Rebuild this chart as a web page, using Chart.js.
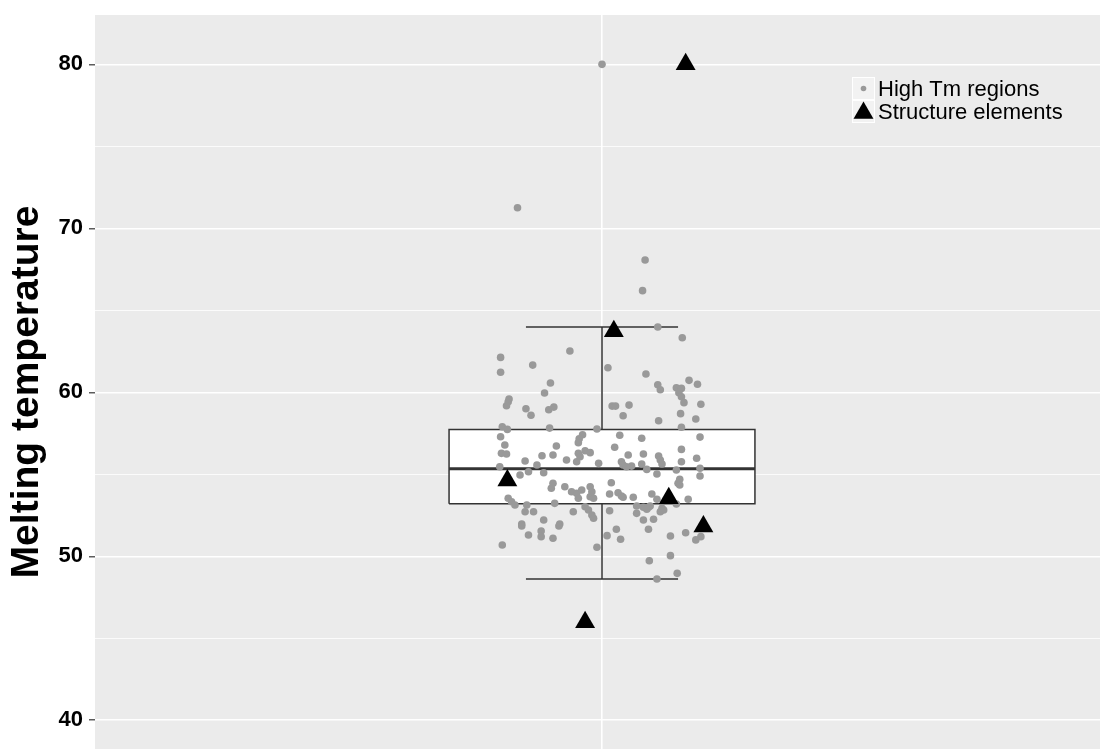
<!DOCTYPE html>
<html>
<head>
<meta charset="utf-8">
<script src="https://cdn.jsdelivr.net/npm/chart.js@4.4.1/dist/chart.umd.min.js"></script>
<style>
  html, body { margin: 0; padding: 0; overflow: hidden; background: #ffffff; width: 1100px; height: 749px; }
  #frame { position: relative; width: 1100px; height: 749px; overflow: hidden; }
  canvas { display: block; position: absolute; left: 0; top: 0; }
</style>
</head>
<body>
<div id="frame"><canvas id="tmChart" width="1109" height="769"></canvas></div>
<script>
// Boxplot summary: lower whisker, Q1, median, Q3, upper whisker
const boxStats = [48.62, 53.21, 55.34, 57.74, 63.98];

// High Tm regions: horizontal jitter (category units) and melting temperature
const tmJitter = [
  0.000, -0.100, 0.051, 0.048,
  0.066, 0.095, -0.120, -0.038, -0.120, -0.082, 0.007, 0.052, -0.061, -0.068,
  0.066, 0.069, 0.103, 0.113, 0.088, 0.094, 0.091, 0.094, 0.097, 0.117,
  -0.110, -0.111, -0.113, -0.090, -0.084, -0.063, -0.057, 0.012, 0.016, 0.032,
  0.025, 0.067, 0.093, 0.111, 0.094, -0.118, -0.112, -0.062, -0.006, -0.120,
  -0.023, -0.027, 0.021, 0.047, 0.116,
  -0.115, -0.119, -0.113, -0.028, -0.054, -0.071, -0.058, -0.042, -0.028, -0.026,
  -0.030, -0.020, -0.014, -0.004, -0.091, -0.077, -0.087, -0.097, -0.069, -0.121,
  -0.058, -0.060, -0.044, -0.036, -0.030, -0.024, -0.014, -0.012, -0.014, -0.010,
  -0.028, -0.111, -0.107, -0.103, -0.089, -0.056, -0.020, -0.016, -0.091, -0.081,
  -0.034, -0.012, -0.010, -0.069, -0.095, -0.050,
  0.015, 0.094, 0.031, 0.049, 0.067, 0.069, 0.071, 0.112, 0.094, 0.023,
  0.025, 0.029, 0.035, 0.047, 0.053, 0.088, 0.116, 0.065, 0.116, 0.092,
  0.090, 0.092, 0.011, 0.009, 0.019, 0.023, 0.025, 0.037, 0.059, 0.065,
  0.102, 0.088, 0.041, 0.049, 0.055, 0.057, 0.053, 0.071, 0.069, 0.073,
  0.009, 0.041, 0.049, 0.061,
  -0.095, -0.087, -0.072, -0.072, -0.058, -0.051, -0.118, -0.006, 0.006, 0.017,
  0.022, 0.055, 0.081, 0.099, 0.111, 0.117, 0.056, 0.081, 0.065, 0.089
];
const tmValues = [
  80.00, 71.26, 68.07, 66.20,
  63.98, 63.33, 62.13, 62.52, 61.22, 61.66, 61.50, 61.12, 60.57, 59.96,
  60.46, 60.16, 60.73, 60.49, 60.28, 60.24, 59.98, 59.73, 59.37, 59.27,
  59.59, 59.43, 59.18, 59.00, 58.60, 58.94, 59.10, 59.16, 59.16, 59.22,
  58.57, 58.27, 58.70, 58.37, 57.87, 57.90, 57.74, 57.82, 57.76, 57.29,
  57.41, 57.17, 57.38, 57.20, 57.27,
  56.79, 56.28, 56.24, 56.93, 56.73, 56.13, 56.18, 55.87, 56.28, 56.07,
  55.77, 56.44, 56.32, 55.67, 55.81, 55.57, 55.16, 54.96, 55.10, 55.46,
  54.45, 54.15, 54.24, 53.94, 53.84, 54.04, 54.24, 53.94, 53.63, 53.54,
  53.54, 53.54, 53.33, 53.13, 53.13, 53.23, 53.02, 52.82, 52.72, 52.72,
  52.72, 52.52, 52.32, 52.21, 51.97, 51.97,
  56.65, 56.52, 56.18, 56.24, 56.12, 55.87, 55.63, 55.98, 55.77, 55.77,
  55.57, 55.46, 55.50, 55.63, 55.30, 55.26, 55.37, 55.02, 54.90, 54.70,
  54.45, 54.35, 54.49, 53.80, 53.88, 53.68, 53.60, 53.60, 53.80, 53.48,
  53.48, 53.19, 53.07, 52.99, 52.99, 53.07, 52.87, 52.93, 52.72, 52.82,
  52.78, 52.62, 52.21, 52.26,
  51.85, 51.30, 51.54, 51.20, 51.10, 51.85, 50.69, 50.55, 51.26, 51.65,
  51.04, 51.65, 51.24, 51.44, 51.00, 51.20, 49.73, 50.04, 48.62, 48.96
];

// Structure elements
const structJitter = [0.099, 0.014, -0.112, 0.079, 0.120, -0.020];
const structValues = [80.00, 63.73, 54.62, 53.54, 51.82, 45.98];

const majorTicks = [40, 50, 60, 70, 80];
const minorTicks = [45, 55, 65, 75];
const seriesLabels = ['High Tm regions', 'Structure elements'];
const yTitle = 'Melting temperature';

const FONT = "'Liberation Sans', Arial, Helvetica, sans-serif";
Chart.defaults.font.family = FONT;

const center = 1;          // single category position
const boxHalf = 0.181;     // half width of the box
const capHalf = 0.09;      // half width of whisker caps
const edge = '#333333';
const [lo, q1, med, q3, hi] = boxStats;

const seg = (pts, extra) => Object.assign({
  type: 'line',
  data: pts.map(([x, y]) => ({ x, y })),
  borderColor: edge,
  borderWidth: 1.5,
  pointRadius: 0,
  fill: false,
  tension: 0
}, extra || {});

const panelBackground = {
  id: 'panelBackground',
  beforeDraw(chart) {
    const { ctx, chartArea: a } = chart;
    ctx.save();
    ctx.fillStyle = '#EBEBEB';
    ctx.fillRect(a.left, a.top, a.right - a.left, a.bottom - a.top);
    ctx.restore();
  }
};

// Legend drawn inside the panel, ggplot style keys
const insideLegend = {
  id: 'insideLegend',
  afterDatasetsDraw(chart) {
    const ctx = chart.ctx;
    const entries = chart.data.datasets.filter(d => d.legendIndex !== undefined)
      .sort((a, b) => a.legendIndex - b.legendIndex);
    const x0 = 852, y0 = 77, size = 23;
    ctx.save();
    entries.forEach((ds, i) => {
      const ky = y0 + i * size;
      ctx.fillStyle = '#F2F2F2';
      ctx.fillRect(x0, ky, size, size);
      ctx.strokeStyle = '#FFFFFF';
      ctx.lineWidth = 1;
      ctx.strokeRect(x0 + 0.5, ky + 0.5, size - 1, size - 1);
      ctx.fillStyle = ds.backgroundColor;
      Chart.helpers.drawPoint(ctx, {
        pointStyle: ds.pointStyle, radius: ds.legendRadius, borderWidth: 0, rotation: 0
      }, x0 + size / 2, ky + size / 2 + ds.legendShift);
      ctx.fillStyle = '#000000';
      ctx.font = '22px ' + FONT;
      ctx.textBaseline = 'middle';
      ctx.textAlign = 'left';
      ctx.fillText(ds.label, x0 + size + 3, ky + size / 2 + 1);
    });
    ctx.restore();
  }
};

new Chart(document.getElementById('tmChart'), {
  type: 'line',
  data: {
    datasets: [
      {
        type: 'scatter',
        label: seriesLabels[1],
        legendIndex: 1, legendRadius: 11.5, legendShift: 1.5,
        data: structValues.map((v, i) => ({ x: center + structJitter[i], y: v })),
        pointStyle: 'triangle',
        pointRadius: 11.5,
        backgroundColor: '#000000',
        borderWidth: 0,
        order: 0
      },
      {
        type: 'scatter',
        label: seriesLabels[0],
        legendIndex: 0, legendRadius: 2.8, legendShift: 0,
        data: tmValues.map((v, i) => ({ x: center + tmJitter[i], y: v })),
        pointStyle: 'circle',
        pointRadius: 3.8,
        backgroundColor: '#999999',
        borderWidth: 0,
        order: 1
      },
      seg([[center - boxHalf, med], [center + boxHalf, med]], { borderWidth: 3, order: 2 }),
      seg([[center - boxHalf, q1], [center + boxHalf, q1], [center + boxHalf, q3],
           [center - boxHalf, q3], [center - boxHalf, q1]], { order: 3 }),
      seg([[center - boxHalf, q3], [center + boxHalf, q3]],
          { borderWidth: 0, borderColor: 'rgba(0,0,0,0)', fill: { value: q1 },
            backgroundColor: '#FFFFFF', order: 4 }),
      seg([[center, q3], [center, hi]], { order: 3 }),
      seg([[center, lo], [center, q1]], { order: 3 }),
      seg([[center - capHalf, hi], [center + capHalf, hi]], { order: 3 }),
      seg([[center - capHalf, lo], [center + capHalf, lo]], { order: 3 })
    ]
  },
  options: {
    responsive: false,
    animation: false,
    events: [],
    layout: { autoPadding: false, padding: { top: 15, left: 0, right: 0, bottom: 0 } },
    plugins: { legend: { display: false }, tooltip: { enabled: false } },
    scales: {
      x: {
        type: 'linear',
        min: 0.4,
        max: 1.6,
        afterBuildTicks: s => { s.ticks = [{ value: center }]; },
        afterFit: s => { s.height = 0; s.paddingLeft = 0; s.paddingRight = 0; },
        ticks: { display: false },
        grid: { color: '#FFFFFF', lineWidth: 1.6, drawTicks: false },
        border: { display: false }
      },
      y: {
        type: 'linear',
        min: 37.03,
        max: 83.01,
        afterBuildTicks: s => {
          s.ticks = majorTicks.concat(minorTicks).sort((a, b) => a - b).map(v => ({ value: v }));
        },
        afterFit: s => { s.width = 95; s.paddingTop = 0; s.paddingBottom = 0; },
        ticks: {
          callback: v => (majorTicks.includes(v) ? String(v) : ''),
          font: { size: 22, weight: 'bold' },
          color: '#000000',
          padding: 6
        },
        grid: {
          color: '#FFFFFF',
          lineWidth: c => (majorTicks.includes(c.tick.value) ? 1.6 : 0.8),
          tickColor: c => (majorTicks.includes(c.tick.value) ? '#333333' : 'rgba(0,0,0,0)'),
          tickWidth: 1.2,
          tickLength: 6,
          drawTicks: true
        },
        border: { display: false },
        title: {
          display: true,
          text: yTitle,
          font: { size: 39, weight: 'bold' },
          color: '#000000',
          padding: { top: 4, bottom: 0 }
        }
      }
    }
  },
  plugins: [panelBackground, insideLegend]
});
</script>
</body>
</html>
